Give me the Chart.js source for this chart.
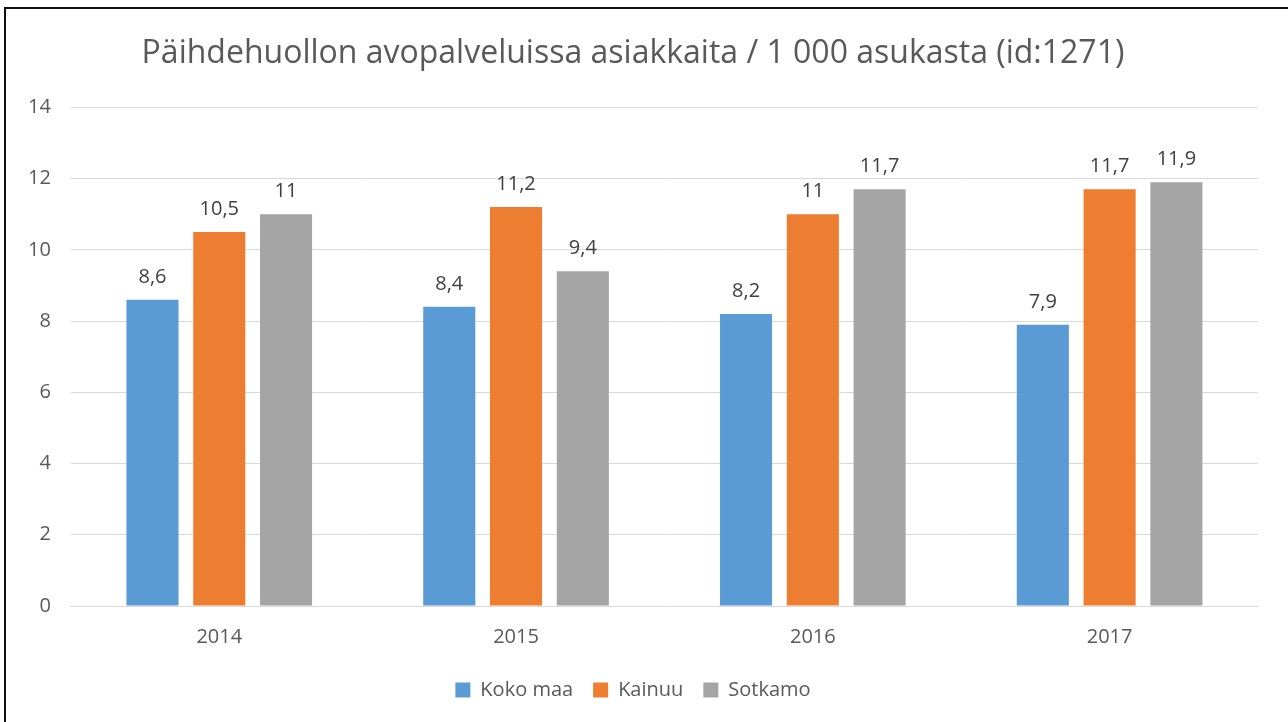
<!DOCTYPE html>
<html>
<head>
<meta charset="utf-8">
<script src="https://cdn.jsdelivr.net/npm/chart.js@4/dist/chart.umd.min.js"></script>
<style>
  body { margin: 0; background: #fff; }
  #frame {
    position: absolute; left: 4px; top: 7px; width: 1284px; height: 715px;
    border-left: 2px solid #111; border-top: 2px solid #111; box-sizing: border-box;
  }
  #wrap { position: absolute; left: 0; top: 0; width: 1282px; height: 713px; }
</style>
</head>
<body>
<div id="frame"><div id="wrap"><canvas id="myChart"></canvas></div></div>
<script>
// ********** data **********
var years = ["2014", "2015", "2016", "2017"];
var kokoMaa = [8.6, 8.4, 8.2, 7.9];
var kainuu = [10.5, 11.2, 11, 11.7];
var sotkamo = [11, 9.4, 11.7, 11.9];
var yTicks = [0, 2, 4, 6, 8, 10, 12, 14];

var fontName = "'Open Sans', 'Liberation Sans', sans-serif";

// numbers with a comma, as in the original
function fiNumber(v) {
  return String(v).replace(".", ",");
}

// draws the value above each bar
var valueLabels = {
  id: "valueLabels",
  afterDatasetsDraw: function(chart) {
    var ctx = chart.ctx;
    ctx.save();
    ctx.font = "20px " + fontName;
    ctx.fillStyle = "#404040";
    ctx.textAlign = "center";
    ctx.textBaseline = "alphabetic";
    chart.data.datasets.forEach(function(ds, i) {
      chart.getDatasetMeta(i).data.forEach(function(bar, j) {
        ctx.fillText(fiNumber(ds.data[j]), bar.x, bar.y - 17);
      });
    });
    ctx.restore();
  }
};

var ctx = document.getElementById("myChart").getContext("2d");
var barChart = new Chart(ctx, {
  type: "bar",
  data: {
    labels: years,
    datasets: [
      { label: "Koko maa", data: kokoMaa, backgroundColor: "#5B9BD5" },
      { label: "Kainuu", data: kainuu, backgroundColor: "#ED7D31" },
      { label: "Sotkamo", data: sotkamo, backgroundColor: "#A5A5A5" }
    ]
  },
  options: {
    responsive: true,
    maintainAspectRatio: false,
    animation: false,
    categoryPercentage: 0.675,
    barPercentage: 0.78,
    layout: { padding: { left: 2, right: 30, top: 0, bottom: 12 } },
    plugins: {
      title: {
        display: true,
        text: "Päihdehuollon avopalveluissa asiakkaita / 1 000 asukasta (id:1271)",
        color: "#595959",
        font: { family: fontName, size: 32, weight: "normal" },
        padding: { top: 26, bottom: 34 }
      },
      legend: {
        position: "bottom",
        labels: {
          color: "#595959",
          font: { family: fontName, size: 20 },
          boxWidth: 15,
          boxHeight: 15,
          padding: 20
        }
      },
      tooltip: { enabled: false }
    },
    scales: {
      x: {
        grid: { display: false },
        border: { display: true, color: "#d9d9d9" },
        ticks: { color: "#595959", font: { family: fontName, size: 20 }, padding: 11 }
      },
      y: {
        min: 0,
        max: 14,
        afterBuildTicks: function(axis) {
          axis.ticks = yTicks.map(function(v) { return { value: v }; });
        },
        grid: { color: "#d9d9d9", drawTicks: false },
        border: { display: false },
        ticks: { color: "#595959", font: { family: fontName, size: 20 }, padding: 20 }
      }
    }
  },
  plugins: [valueLabels]
});
</script>
</body>
</html>
